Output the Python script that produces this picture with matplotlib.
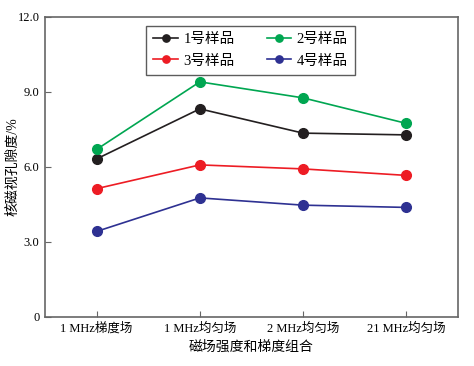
import matplotlib
matplotlib.use('Agg')
import matplotlib.pyplot as plt

plt.rcParams['font.family'] = ['Liberation Serif', 'Noto Sans CJK SC']

# Data
categories = ['1 MHz梯度场', '1 MHz均匀场', '2 MHz均匀场', '21 MHz均匀场']
sample1 = [6.32, 8.32, 7.35, 7.28]
sample2 = [6.70, 9.40, 8.76, 7.74]
sample3 = [5.13, 6.08, 5.92, 5.66]
sample4 = [3.42, 4.76, 4.47, 4.38]

series = [
    ('1号样品', sample1, '#231f20'),
    ('3号样品', sample3, '#ed1c24'),
    ('2号样品', sample2, '#00a651'),
    ('4号样品', sample4, '#2e3192'),
]

fig = plt.figure(figsize=(4.74, 3.66), dpi=100)
ax = fig.add_axes([0.095, 0.134, 0.871, 0.820])

x = range(len(categories))
for name, vals, color in series:
    ax.plot(x, vals, color=color, marker='o', markersize=7, linewidth=1.2, label=name)

ax.set_xlim(-0.5, 3.5)
ax.set_ylim(0, 12)
ax.set_xticks(list(x))
ax.set_xticklabels(categories, fontsize=9)
ax.set_yticks([0, 3, 6, 9, 12])
ax.set_yticklabels(['0', '3.0', '6.0', '9.0', '12.0'], fontsize=9)
ax.tick_params(direction='in', length=4, color='#666666', pad=4)

for sp in ax.spines.values():
    sp.set_color('#666666')
    sp.set_linewidth(1.2)

ax.set_xlabel('磁场强度和梯度组合', fontsize=10, labelpad=4)
ax.set_ylabel('核磁视孔隙度/%', fontsize=10)
ax.yaxis.set_label_coords(-0.062, 0.5)

leg = ax.legend(ncol=2, loc='upper left', bbox_to_anchor=(0.245, 0.97), fontsize=10.5,
                frameon=True, fancybox=False, edgecolor='#333333', markerscale=0.75,
                columnspacing=2.2, handlelength=1.65, handletextpad=0.4,
                borderpad=0.5, labelspacing=0.55, borderaxespad=0)
leg.get_frame().set_linewidth(1.0)

fig.savefig('out.png', dpi=100)
